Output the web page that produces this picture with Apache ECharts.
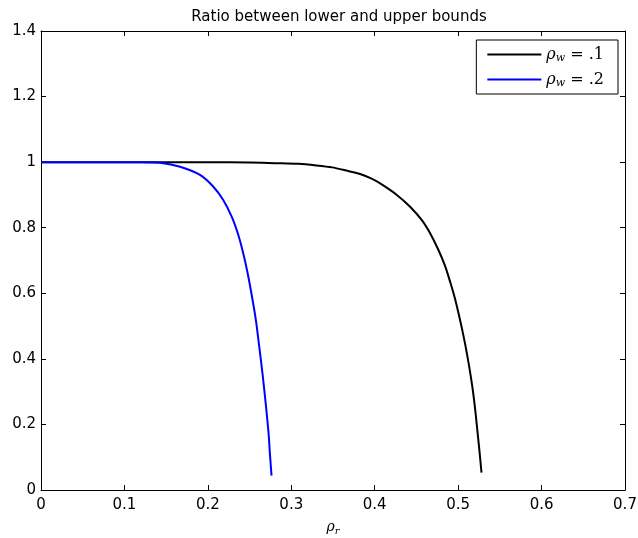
<!DOCTYPE html>
<html><head><meta charset="utf-8">
<script src="https://cdn.jsdelivr.net/npm/echarts@6/dist/echarts.min.js"></script>
<style>html,body{margin:0;padding:0;background:#fff}#c{width:638px;height:538px}</style>
</head><body><div id="c"></div>
<script>
// rho_r and ratio values for rho_w = .1 (black)
const xBlack = [0, 0.1, 0.2, 0.25, 0.28, 0.309, 0.33, 0.349, 0.365, 0.3825, 0.395, 0.4065, 0.4265, 0.4424, 0.4565, 0.4664, 0.4764, 0.4844, 0.4904, 0.4964, 0.501, 0.505, 0.509, 0.513, 0.517, 0.52, 0.5225, 0.5255, 0.528];
const yBlack = [1, 1, 1, 0.999, 0.997, 0.995, 0.99, 0.984, 0.975, 0.964, 0.951, 0.935, 0.9, 0.864, 0.823, 0.783, 0.732, 0.683, 0.635, 0.582, 0.533, 0.487, 0.437, 0.38, 0.315, 0.255, 0.195, 0.12, 0.053];
// rho_r and ratio values for rho_w = .2 (blue)
const xBlue = [0, 0.1, 0.12, 0.1427, 0.1667, 0.1906, 0.2066, 0.2186, 0.2287, 0.2366, 0.2426, 0.2474, 0.2526, 0.2577, 0.2616, 0.2656, 0.2697, 0.2728, 0.2744, 0.2763];
const yBlue = [1, 1, 1, 0.998, 0.986, 0.961, 0.925, 0.884, 0.833, 0.777, 0.72, 0.665, 0.594, 0.516, 0.437, 0.353, 0.255, 0.172, 0.11, 0.044];
const xTicks = [0, 0.1, 0.2, 0.3, 0.4, 0.5, 0.6, 0.7];
const yTicks = [0, 0.2, 0.4, 0.6, 0.8, 1, 1.2, 1.4];
const legendNames = ['ρw = .1', 'ρw = .2'];
const titleText = 'Ratio between lower and upper bounds';

const pairs = (xs, ys) => xs.map((x, i) => [x, ys[i]]);
const fmt = v => (v === 0 ? '0' : String(+v.toFixed(1)));
const font = 'DejaVu Sans, Liberation Sans, Arial, sans-serif';
const serif = 'DejaVu Serif, Liberation Serif, serif';
const chart = echarts.init(document.getElementById('c'), null, {renderer: 'canvas'});
const axisCommon = {
  axisLine: {show: true, onZero: false, lineStyle: {color: '#000', width: 1}},
  axisTick: {show: true, inside: true, length: 5, lineStyle: {color: '#000'}},
  splitLine: {show: false}
};
const legendRich = {
  i: {fontFamily: serif, fontStyle: 'italic', fontSize: 16, color: '#000', lineHeight: 20},
  s: {fontFamily: serif, fontStyle: 'italic', fontSize: 11, color: '#000', padding: [8, 0, 0, 0], lineHeight: 20},
  t: {fontFamily: serif, fontSize: 16, color: '#000', lineHeight: 20}
};
chart.setOption({
  animation: false,
  backgroundColor: '#fff',
  title: {text: titleText, left: 334, top: 5, textAlign: 'center',
    textStyle: {fontFamily: font, fontSize: 15, fontWeight: 'normal', color: '#000'}},
  grid: {left: 41, right: 13, top: 31, bottom: 48, containLabel: false, outerBoundsMode: 'none'},
  legend: {
    top: 40, right: 20, orient: 'vertical',
    borderColor: '#000', borderWidth: 1, backgroundColor: '#fff',
    padding: [5, 14, 5, 11], itemGap: 6, itemWidth: 54, itemHeight: 2,
    data: [{name: legendNames[0], icon: 'rect'}, {name: legendNames[1], icon: 'rect'}],
    formatter: n => n === legendNames[0] ? '{i|ρ}{s|w}{t| = .1}' : '{i|ρ}{s|w}{t| = .2}',
    textStyle: {rich: legendRich}
  },
  xAxis: [
    Object.assign({type: 'value', min: xTicks[0], max: xTicks[xTicks.length - 1], interval: 0.1, position: 'bottom',
      name: '{i|ρ}{s|r}', nameLocation: 'middle', nameGap: 29,
      nameTextStyle: {rich: {
        i: {fontFamily: serif, fontStyle: 'italic', fontSize: 14, color: '#000'},
        s: {fontFamily: serif, fontStyle: 'italic', fontSize: 10, color: '#000', padding: [7, 0, 0, 0]}
      }},
      axisLabel: {fontFamily: font, fontSize: 15, color: '#000', margin: 8, formatter: fmt}}, axisCommon),
    Object.assign({type: 'value', min: xTicks[0], max: xTicks[xTicks.length - 1], interval: 0.1, position: 'top',
      axisLabel: {show: false}}, axisCommon)
  ],
  yAxis: [
    Object.assign({type: 'value', min: yTicks[0], max: yTicks[yTicks.length - 1], interval: 0.2, position: 'left',
      axisLabel: {fontFamily: font, fontSize: 15, color: '#000', margin: 5, formatter: fmt}}, axisCommon),
    Object.assign({type: 'value', min: yTicks[0], max: yTicks[yTicks.length - 1], interval: 0.2, position: 'right',
      axisLabel: {show: false}}, axisCommon)
  ],
  series: [
    {name: legendNames[0], type: 'line', data: pairs(xBlack, yBlack), symbol: 'none', smooth: 0.25,
      lineStyle: {color: '#000', width: 2}, itemStyle: {color: '#000'}},
    {name: legendNames[1], type: 'line', data: pairs(xBlue, yBlue), symbol: 'none', smooth: 0.25,
      lineStyle: {color: '#0000ff', width: 2}, itemStyle: {color: '#0000ff'}}
  ]
});
</script></body></html>
